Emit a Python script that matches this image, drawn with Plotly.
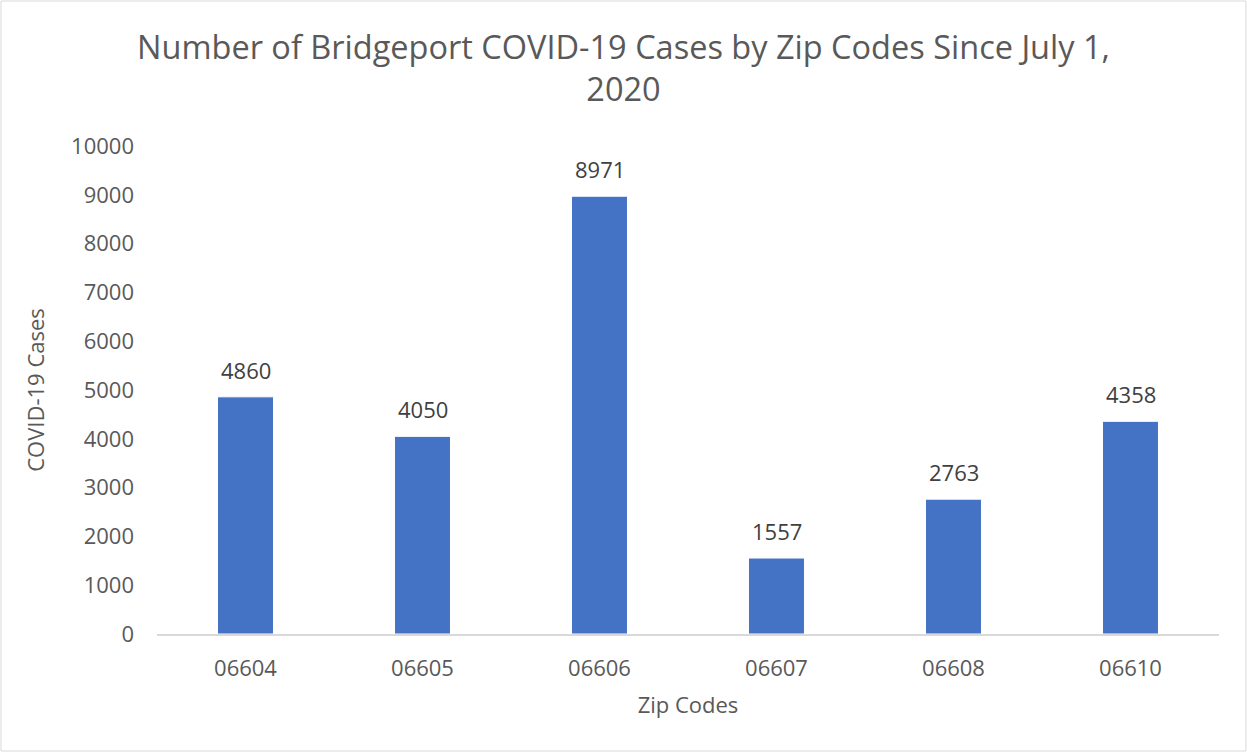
import plotly.graph_objects as go

# Bridgeport COVID-19 cases by zip code since July 1, 2020
zip_codes = ["06604", "06605", "06606", "06607", "06608", "06610"]
cases = [4860, 4050, 8971, 1557, 2763, 4358]
y_ticks = list(range(0, 10001, 1000))

FONT = "Open Sans"
GREY = "#595959"

fig = go.Figure(go.Bar(
    x=zip_codes, y=cases,
    marker=dict(color="#4472C4", line=dict(color="white", width=1)),
))

# value labels sit a little above each bar, as in Excel
# (category index, since numeric-looking names are read as indexes)
for i, v in enumerate(cases):
    fig.add_annotation(x=i, y=v, text=str(v), showarrow=False, yanchor="bottom",
                       yshift=10, font=dict(size=22, color="#404040", family=FONT))

fig.update_layout(
    width=1247, height=752,
    plot_bgcolor="white", paper_bgcolor="white",
    margin=dict(l=157, r=28, t=146, b=118),
    bargap=0.684,
    title=dict(text="Number of Bridgeport COVID-19 Cases by Zip Codes Since July 1,<br>2020",
               x=0.5, xanchor="center", yref="container", y=1 - 59 / 752, yanchor="top",
               font=dict(family=FONT, size=32.5, color=GREY)),
    font=dict(family=FONT, color=GREY),
    showlegend=False,
)
fig.update_xaxes(
    type="category", title=dict(text="Zip Codes", font=dict(size=22, color=GREY), standoff=16),
    tickfont=dict(size=22, color=GREY), showline=True, linecolor="#d9d9d9", linewidth=2,
    ticks="", showgrid=False, ticklabelstandoff=14,
)
fig.update_yaxes(
    range=[0, 10000], tickvals=y_ticks, ticktext=[str(t) for t in y_ticks],
    showgrid=False, zeroline=False,
    title=dict(text="COVID-19 Cases", font=dict(size=22, color=GREY), standoff=20),
    tickfont=dict(size=22, color=GREY), ticks="", ticklabelstandoff=22,
)
# light border round the whole chart area
fig.add_shape(type="rect", xref="paper", yref="paper",
              x0=-156 / 1062, x1=1 + 27 / 1062, y0=-117 / 488, y1=1 + 145 / 488,
              line=dict(color="#d9d9d9", width=1), fillcolor="rgba(0,0,0,0)")

fig.write_html("out.html", config={"displayModeBar": False},
               post_script="document.body.style.margin='0';")
